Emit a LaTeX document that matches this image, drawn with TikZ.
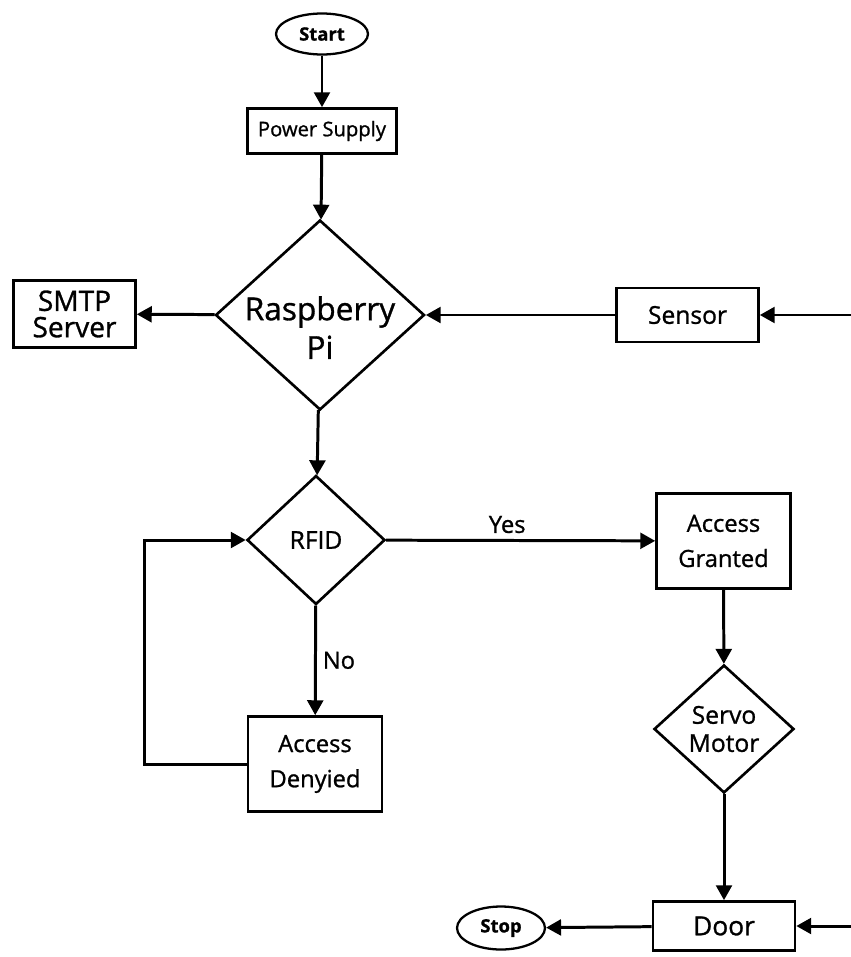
\documentclass[tikz,border=0pt]{standalone}
\usepackage{fontspec}
\setmainfont{Open Sans}[FakeBold=1]
\usetikzlibrary{arrows.meta,shapes.geometric}

\begin{document}
\begin{tikzpicture}[
  x=0.02cm, y=-0.02cm, >={Triangle[length=8.5pt, width=9pt]},
  box/.style={draw, line width=1.5pt, inner sep=0pt, align=center},
  dec/.style={draw, diamond, line width=1.5pt, inner sep=0pt},
  term/.style={draw, ellipse, line width=1.3pt, inner sep=0pt, font=\bfseries\fontsize{10.5}{12}\selectfont},
  fl/.style={->, line width=1.7pt},
  txt/.style={font=\fontsize{13.5}{20}\selectfont},
]
\useasboundingbox (0,0) rectangle (851,957);
\node[term, minimum width=1.84cm, minimum height=0.82cm] (start) at (322,34) {Start};
\node[box, minimum width=2.98cm, minimum height=0.9cm, font=\fontsize{11.5}{13}\selectfont] (power) at (322,131) {Power Supply};
\node[dec, minimum width=4.18cm, minimum height=3.8cm, label={[font=\fontsize{18}{22}\selectfont, align=center, yshift=-0.25cm]center:Raspberry\\Pi}] (rpi) at (320,315) {};
\node[box, minimum width=2.44cm, minimum height=1.34cm, font=\fontsize{16}{15}\selectfont] (smtp) at (74.5,314) {SMTP\\Server};
\node[box, minimum width=2.84cm, minimum height=1.08cm, font=\fontsize{14}{16}\selectfont] (sensor) at (687.5,315) {Sensor};
\node[dec, minimum width=2.76cm, minimum height=2.58cm, label={[font=\fontsize{14}{16}\selectfont]center:RFID}] (rfid) at (316,540) {};
\node[box, txt, minimum width=2.68cm, minimum height=1.9cm] (granted) at (723.5,541) {Access\\Granted};
\node[box, txt, minimum width=2.68cm, minimum height=1.9cm] (denied) at (315,764) {Access\\Denyied};
\node[dec, minimum width=2.8cm, minimum height=2.56cm, label={[font=\fontsize{14}{16}\selectfont, align=center]center:Servo\\Motor}] (servo) at (724,729) {};
\node[box, minimum width=2.84cm, minimum height=0.98cm, font=\fontsize{15}{17}\selectfont] (door) at (724,926) {Door};
\node[term, minimum width=1.76cm, minimum height=0.86cm] (stop) at (501,928) {Stop};
\coordinate (sensin) at (851,315);
\coordinate (doorin) at (851,926);

\draw[fl] (start) -- (power);
\draw[fl] (power) -- (rpi);
\draw[fl] (rpi) -- (smtp);
\draw[fl] (sensin) -- (sensor);
\draw[fl] (sensor) -- (rpi);
\draw[fl] (rpi) -- (rfid);
\draw[fl] (rfid) -- node[txt, above, pos=0.45]{Yes} (granted);
\draw[fl] (rfid) -- node[txt, right]{No} (denied);
\draw[fl] (denied.west) -- ++(-102,0) |- (rfid.west);
\draw[fl] (granted) -- (servo);
\draw[fl] (servo) -- (door);
\draw[fl] (doorin) -- (door);
\draw[fl] (door) -- (stop);
\end{tikzpicture}
\end{document}
